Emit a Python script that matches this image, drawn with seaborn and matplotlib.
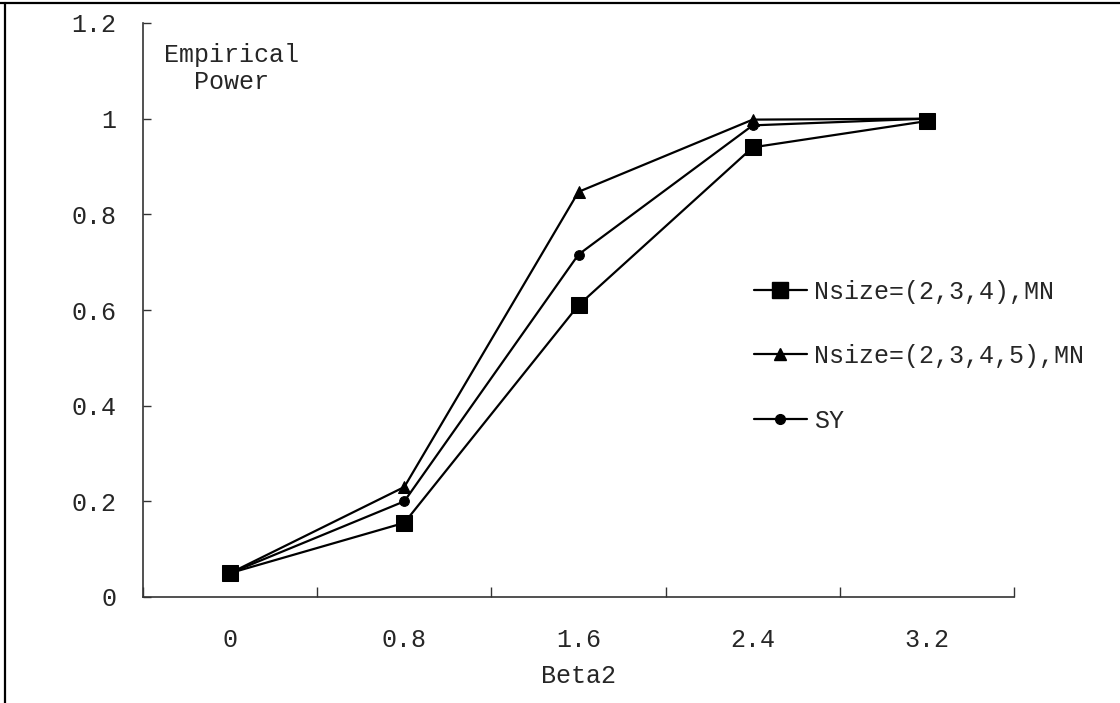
import matplotlib
matplotlib.use("Agg")
import matplotlib.pyplot as plt
import seaborn as sns
import pandas as pd
from matplotlib.lines import Line2D

categories = ["0", "0.8", "1.6", "2.4", "3.2"]
mn_234 = [0.05, 0.155, 0.61, 0.94, 0.995]
mn_2345 = [0.05, 0.23, 0.847, 0.998, 1.0]
sy = [0.05, 0.20, 0.716, 0.986, 1.0]
series_names = ["Nsize=(2,3,4),MN", "Nsize=(2,3,4,5),MN", "SY"]
yticks = [0, 0.2, 0.4, 0.6, 0.8, 1.0, 1.2]
ytick_labels = ["0", "0.2", "0.4", "0.6", "0.8", "1", "1.2"]

sns.set_theme(style="white")
plt.rcParams["font.family"] = ["Liberation Mono", "DejaVu Sans Mono"]
FS = 18

rows = []
for name, vals in zip(series_names, [mn_234, mn_2345, sy]):
    for i, (c, v) in enumerate(zip(categories, vals)):
        rows.append({"pos": i, "cat": c, "value": v, "series": name})
df = pd.DataFrame(rows)

fig = plt.figure(figsize=(11.2, 7.03), dpi=100)
ax = fig.add_axes([143 / 1120, 1 - 597 / 703, (1014 - 143) / 1120, (597 - 23) / 703])

markers = {"Nsize=(2,3,4),MN": "s", "Nsize=(2,3,4,5),MN": "^", "SY": "o"}
msizes = {"Nsize=(2,3,4),MN": 12, "Nsize=(2,3,4,5),MN": 8.5, "SY": 7}
for name in ["SY", "Nsize=(2,3,4,5),MN", "Nsize=(2,3,4),MN"]:
    sub = df[df["series"] == name]
    sns.lineplot(data=sub, x="pos", y="value", ax=ax, color="black", linewidth=1.6,
                 marker=markers[name], markersize=msizes[name], markeredgecolor="black",
                 markerfacecolor="black", legend=False)

ax.set_xlim(-0.5, 4.5)
ax.set_ylim(0, 1.2)
ax.set_xticks([i - 0.5 for i in range(6)])
ax.set_xticklabels([])
ax.set_xticks(range(len(categories)), minor=True)
ax.set_xticklabels(categories, minor=True, fontsize=FS)
ax.set_yticks(yticks)
ax.set_yticklabels(ytick_labels, fontsize=FS)
ax.tick_params(axis="x", which="major", direction="in", length=7, width=1, color="#333333", bottom=True)
ax.tick_params(axis="x", which="minor", length=0, pad=22, bottom=True)
ax.tick_params(axis="y", which="major", direction="in", length=6, width=1, color="#333333", left=True, pad=19)
ax.set_xlabel("Beta2", fontsize=FS, labelpad=9)
ax.set_ylabel("")

for side in ["top", "right"]:
    ax.spines[side].set_visible(False)
for side in ["left", "bottom"]:
    ax.spines[side].set_color("#333333")
    ax.spines[side].set_linewidth(1.2)

fig.text(231 / 1120, 1 - 55 / 703, "Empirical", ha="center", va="center", fontsize=FS)
fig.text(231 / 1120, 1 - 82 / 703, "Power", ha="center", va="center", fontsize=FS)

handles = [Line2D([], [], color="black", linewidth=1.6, marker=markers[n], markersize=msizes[n])
           for n in series_names]
fig.legend(handles, series_names, loc="center left", bbox_to_anchor=(754 / 1120, 1 - 356 / 703),
           frameon=False, fontsize=FS, handlelength=2.1, handletextpad=0.3, labelspacing=1.62,
           borderaxespad=0, borderpad=0)

fig.add_artist(Line2D([0, 1], [1 - 3 / 703, 1 - 3 / 703], color="black", linewidth=1.6,
                      transform=fig.transFigure))
fig.add_artist(Line2D([5 / 1120, 5 / 1120], [0, 1 - 3 / 703], color="black", linewidth=1.6,
                      transform=fig.transFigure))

fig.savefig("out.png", dpi=100, facecolor="white")
